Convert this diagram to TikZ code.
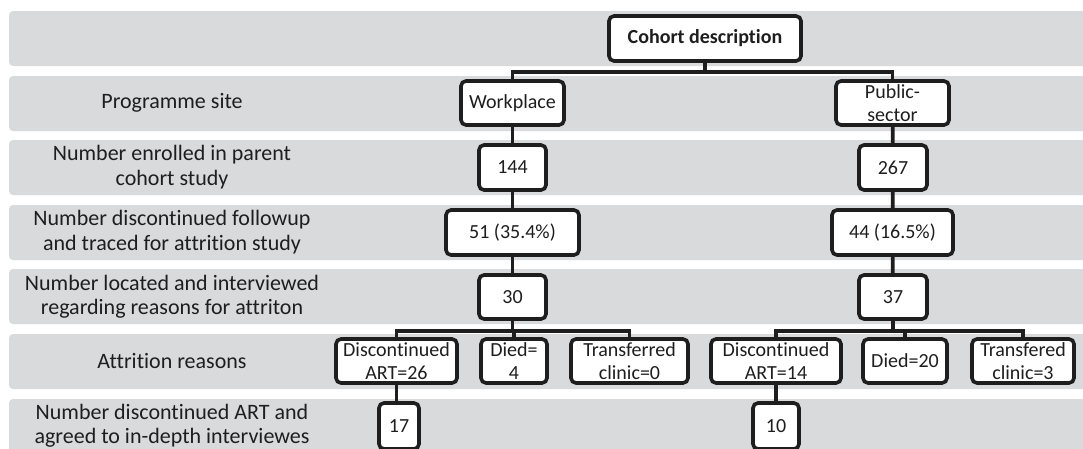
\documentclass[tikz,border=0pt]{standalone}
\usepackage{fontspec}
\setmainfont{Carlito}[Ligatures=NoCommon]
\usetikzlibrary{calc}
\definecolor{bandgray}{RGB}{217,218,220}
\definecolor{ink}{RGB}{30,30,30}
\tikzset{
  band/.style={fill=bandgray, draw=none, rounded corners=4pt},
  rowlabel/.style={text=ink, align=center, font=\fontsize{22}{24.5}\selectfont},
  flowbox/.style={draw=ink, fill=white, line width=3.6pt, rounded corners=5pt,
    text=ink, align=center, inner sep=1pt, font=\fontsize{20}{22.5}\selectfont},
  link/.style={draw=ink, line width=3.8pt}
}
\begin{document}
\begin{tikzpicture}[x=1pt,y=-1pt]
\path[use as bounding box] (0,0) rectangle (1083,448);
\clip (0,0) rectangle (1083,448);
% bands
\foreach \t in {11,76,140,205,269,334}{
  \path[band] (9,\t) rectangle (1100,\t+55);
}
\path[band] (9,399) rectangle (1100,480);
% row labels
\node[rowlabel] (l2) at (172,103) {Programme site};
\node[rowlabel] (l3) at (172,167) {Number enrolled in parent\\cohort study};
\node[rowlabel] (l4) at (172,232) {Number discontinued followup\\and traced for attrition study};
\node[rowlabel] (l5) at (172,296.5) {Number located and interviewed\\regarding reasons for attriton};
\node[rowlabel] (l6) at (172,361.5) {Attrition reasons};
\node[rowlabel] (l7) at (172,425.5) {Number discontinued ART and\\agreed to in-depth interviewes};
% boxes
\node[flowbox, minimum width=192pt, minimum height=45pt, font=\fontsize{20}{22.5}\selectfont\bfseries] (cohort) at (705,38.5) {Cohort description};
\node[flowbox, minimum width=103pt, minimum height=44pt] (work) at (512.5,103) {Workplace};
\node[flowbox, minimum width=113pt, minimum height=44pt] (pub) at (892.5,103) {Public-\\sector};
\node[flowbox, minimum width=67pt, minimum height=45pt] (n144) at (512.5,167.5) {144};
\node[flowbox, minimum width=68pt, minimum height=45pt] (n267) at (893,167.5) {267};
\node[flowbox, minimum width=133pt, minimum height=45pt] (n51) at (512.5,232.5) {51 (35.4\%)};
\node[flowbox, minimum width=121pt, minimum height=45pt] (n44) at (892.5,232.5) {44 (16.5\%)};
\node[flowbox, minimum width=67pt, minimum height=44pt] (n30) at (512.5,297) {30};
\node[flowbox, minimum width=68pt, minimum height=44pt] (n37) at (893,297) {37};
\node[flowbox, minimum width=121pt, minimum height=44pt] (dA) at (396.5,361) {Discontinued\\ART=26};
\node[flowbox, minimum width=66pt, minimum height=44pt] (died4) at (514,361) {Died=\\4};
\node[flowbox, minimum width=117pt, minimum height=44pt] (tr0) at (629.5,361) {Transferred\\clinic=0};
\node[flowbox, minimum width=130pt, minimum height=44pt] (dB) at (776,361) {Discontinued\\ART=14};
\node[flowbox, minimum width=84pt, minimum height=44pt] (died20) at (905,361) {Died=20};
\node[flowbox, minimum width=102pt, minimum height=44pt] (tr3) at (1023,361) {Transfered\\clinic=3};
\node[flowbox, minimum width=40pt, minimum height=46pt] (n17) at (399,426) {17};
\node[flowbox, minimum width=46pt, minimum height=46pt] (n10) at (776,426) {10};
% connectors
\draw[link] (cohort.south) -- ++(0,9) -| (work.north);
\draw[link] (cohort.south) -- ++(0,9) -| (pub.north);
\draw[link] (work) -- (n144);
\draw[link] (n144) -- (n51);
\draw[link] (n51) -- (n30);
\draw[link] (pub) -- (n267);
\draw[link] (n267) -- (n44);
\draw[link] (n44) -- (n37);
\draw[link] (n30.south) -- ++(0,10) -| (dA.north);
\draw[link] (n30.south) -- ++(0,10) -| (died4.north);
\draw[link] (n30.south) -- ++(0,10) -| (tr0.north);
\draw[link] (n37.south) -- ++(0,10) -| (dB.north);
\draw[link] (n37.south) -- ++(0,10) -| (died20.north);
\draw[link] (n37.south) -- ++(0,10) -| (tr3.north);
\draw[link] (dA.south) -- (dA.south |- n17.north);
\draw[link] (dB) -- (n10);
\end{tikzpicture}
\end{document}
